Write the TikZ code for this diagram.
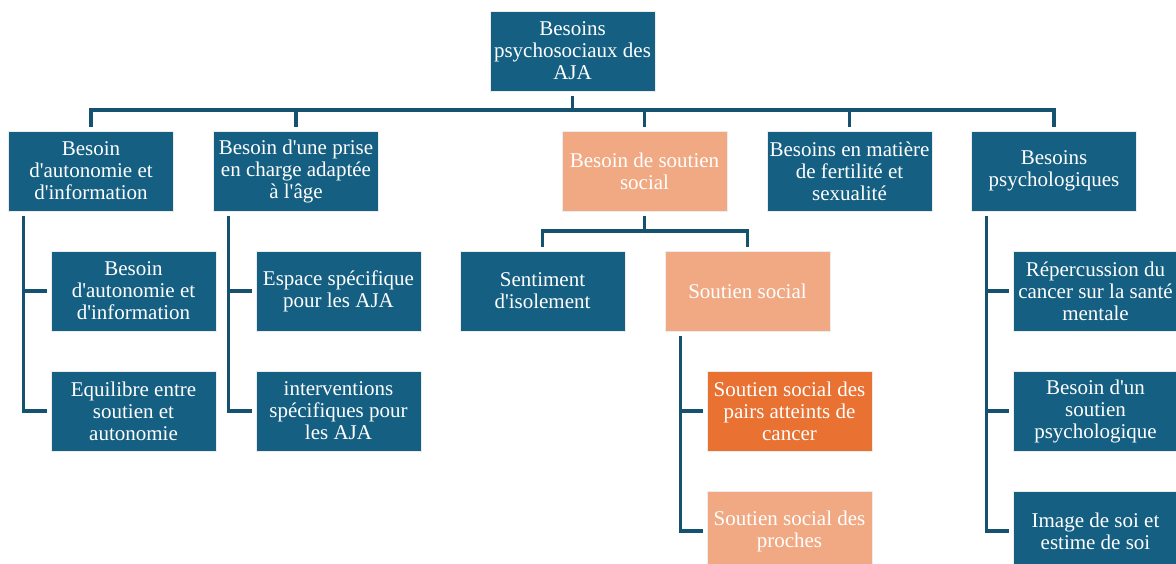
\documentclass[tikz,border=0pt]{standalone}
\usepackage{fontspec}
\setmainfont{Liberation Serif}[Ligatures=TeXOff]
\usepackage{tikz}
\usetikzlibrary{positioning,calc}
\definecolor{boxblue}{RGB}{21,96,130}
\definecolor{linkblue}{RGB}{20,82,112}
\definecolor{boxpeach}{RGB}{241,169,131}
\definecolor{boxorange}{RGB}{233,113,50}
\tikzset{
  box/.style={rectangle, draw=white!85!gray, line width=0.6pt, minimum width=165pt,
    minimum height=80pt, inner sep=0pt, align=center, text=white,
    font=\fontsize{21}{22}\selectfont},
  bluebox/.style={box, fill=boxblue},
  peachbox/.style={box, fill=boxpeach},
  orangebox/.style={box, fill=boxorange},
  link/.style={draw=linkblue, line width=3.6pt},
}

\begin{document}
\begin{tikzpicture}[x=1pt, y=-1pt]
    \useasboundingbox (0,0) rectangle (1176,564);
    \clip (0,0) rectangle (1176,564);
    % root and first level
    \node[bluebox] (root) at (572.5,51) {Besoins\\psychosociaux des\\AJA};
    \node[bluebox] (nA) at (91,171) {Besoin\\d'autonomie et\\d'information};
    \node[bluebox] (nB) at (296,171) {Besoin d'une prise\\en charge adaptée\\à l'âge};
    \node[peachbox] (nC) at (644.5,171) {Besoin de soutien\\social};
    \node[bluebox] (nD) at (849.5,171) {Besoins en matière\\de fertilité et\\sexualité};
    \node[bluebox] (nE) at (1054,171) {Besoins\\psychologiques};
    \coordinate (bus) at (572.5,110);
    \draw[link, shorten <=5pt] (root.south) -- (root.south |- bus);
    \draw[link, shorten <=4pt, shorten >=4pt] (nA.north) |- (bus) -| (nE.north);
    \foreach \n in {nB,nC,nD}
      \draw[link, shorten <=4pt] (\n.north) -- (\n.north |- bus);
    % second level, left
    \node[bluebox] (nA1) at (133.5,291) {Besoin\\d'autonomie et\\d'information};
    \node[bluebox] (nA2) at (133.5,411) {Equilibre entre\\soutien et\\autonomie};
    \node[bluebox] (nB1) at (338.5,291) {Espace spécifique\\pour les AJA};
    \node[bluebox] (nB2) at (338.5,411) {interventions\\spécifiques pour\\les AJA};
    \coordinate (tA) at (23.5,216);
    \coordinate (tB) at (228.5,216);
    \draw[link, shorten >=4pt] (tA) |- (nA2.west);
    \draw[link, shorten >=4pt] (tA |- nA1.west) -- (nA1.west);
    \draw[link, shorten >=4pt] (tB) |- (nB2.west);
    \draw[link, shorten >=4pt] (tB |- nB1.west) -- (nB1.west);
    % social support branch
    \node[bluebox] (nC1) at (542.5,291) {Sentiment\\d'isolement};
    \node[peachbox] (nC2) at (747.5,291) {Soutien social};
    \coordinate (busC) at (644.5,231);
    \draw[link, shorten <=5pt] (nC.south) -- (busC);
    \draw[link, shorten <=4pt, shorten >=4pt] (nC1.north) |- (busC) -| (nC2.north);
    \node[orangebox] (nS1) at (789.5,411) {Soutien social des\\pairs atteints de\\cancer};
    \node[peachbox] (nS2) at (789.5,531) {Soutien social des\\proches};
    \coordinate (tS) at (680.5,336);
    \draw[link, shorten >=4pt] (tS) |- (nS2.west);
    \draw[link, shorten >=4pt] (tS |- nS1.west) -- (nS1.west);
    % psychological needs
    \node[bluebox] (nE1) at (1095.5,291) {Répercussion du\\cancer sur la santé\\mentale};
    \node[bluebox] (nE2) at (1095.5,411) {Besoin d'un\\soutien\\psychologique};
    \node[bluebox] (nE3) at (1095.5,531) {Image de soi et\\estime de soi};
    \coordinate (tE) at (986.5,216);
    \draw[link, shorten >=4pt] (tE) |- (nE3.west);
    \foreach \n in {nE1,nE2}
      \draw[link, shorten >=4pt] (tE |- \n.west) -- (\n.west);
\end{tikzpicture}
\end{document}
